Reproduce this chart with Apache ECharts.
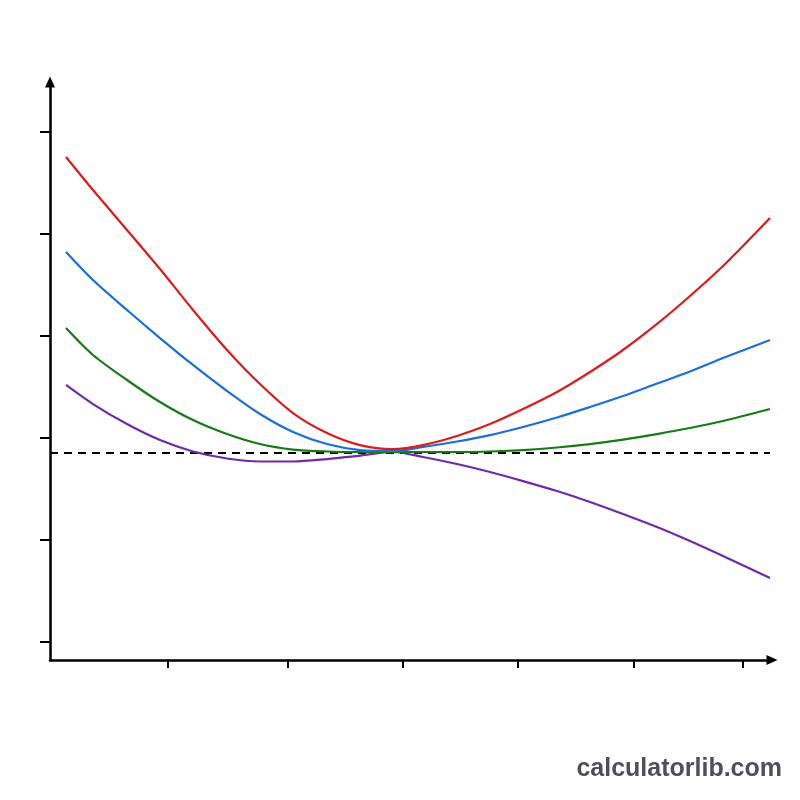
<!DOCTYPE html>
<html><head><meta charset="utf-8">
<script src="https://cdn.jsdelivr.net/npm/echarts@6/dist/echarts.min.js"></script>
<style>html,body{margin:0;padding:0;background:#fff}#c{width:800px;height:800px}</style>
</head><body><div id="c"></div>
<script>
const xs = [0.16, 0.43, 0.77, 1.10, 1.43, 1.77, 2.10, 2.43, 2.77, 3.10, 3.43, 3.73, 4.07, 4.40, 4.73, 5.07, 5.40, 5.73, 6.07, 6.40, 6.73, 7.20];
const redY = [4.755, 4.431, 4.039, 3.657, 3.255, 2.863, 2.529, 2.245, 2.049, 1.931, 1.892, 1.931, 2.020, 2.137, 2.284, 2.451, 2.647, 2.863, 3.118, 3.392, 3.686, 4.157];
const blueY = [3.824, 3.549, 3.255, 2.980, 2.716, 2.461, 2.235, 2.059, 1.941, 1.882, 1.873, 1.912, 1.966, 2.029, 2.108, 2.201, 2.304, 2.412, 2.534, 2.652, 2.784, 2.961];
const greenY = [3.078, 2.814, 2.569, 2.353, 2.176, 2.039, 1.941, 1.887, 1.868, 1.863, 1.863, 1.863, 1.863, 1.868, 1.882, 1.907, 1.941, 1.985, 2.039, 2.098, 2.167, 2.284];
const purpleY = [2.520, 2.333, 2.137, 1.980, 1.868, 1.799, 1.770, 1.770, 1.794, 1.828, 1.863, 1.814, 1.745, 1.667, 1.578, 1.480, 1.373, 1.255, 1.127, 0.990, 0.843, 0.627];
const baselineY = 1.853;
const baselineX = [0, 7.2];
const xTicks = [1.18, 2.38, 3.53, 4.68, 5.84, 6.93];
const yTicks = [0, 1, 2, 3, 4, 5];
const watermark = 'calculatorlib.com';

const pair = (ys) => xs.map((x, i) => [x, ys[i]]);
const chart = echarts.init(document.getElementById('c'), null, {renderer: 'canvas'});
const lineSeries = (data, color) => ({
  type: 'line', data, smooth: 0.3, showSymbol: false, symbol: 'none',
  lineStyle: {color, width: 2.2}, z: 3
});
chart.setOption({
  backgroundColor: '#ffffff',
  animation: false,
  grid: {left: 50, right: 28, top: 82, bottom: 140, containLabel: false},
  xAxis: {
    type: 'value', min: 0, max: 7.22,
    axisLine: {show: true, onZero: false, lineStyle: {color: '#000', width: 2.5}, symbol: ['none', 'triangle'], symbolSize: [10, 11]},
    axisTick: {show: true, length: 8, lineStyle: {color: '#000', width: 2}, customValues: xTicks},
    axisLabel: {show: false, customValues: xTicks},
    splitLine: {show: false}
  },
  yAxis: {
    type: 'value', min: -0.176, max: 5.49,
    axisLine: {show: true, onZero: false, lineStyle: {color: '#000', width: 2.5}, symbol: ['none', 'triangle'], symbolSize: [10, 11]},
    axisTick: {show: true, length: 10, lineStyle: {color: '#000', width: 2}, customValues: yTicks},
    axisLabel: {show: false, customValues: yTicks},
    splitLine: {show: false}
  },
  series: [
    {type: 'line', data: baselineX.map(x => [x, baselineY]), showSymbol: false, symbol: 'none',
     lineStyle: {color: '#000', width: 1.8, type: [8, 6]}, z: 2},
    lineSeries(pair(purpleY), '#6e2aa8'),
    lineSeries(pair(greenY), '#177a17'),
    lineSeries(pair(blueY), '#1a6fd8'),
    lineSeries(pair(redY), '#dc1b1b')
  ],
  graphic: [{
    type: 'text', right: 18, top: 757,
    style: {text: watermark, font: 'bold 25px "Liberation Sans", Arial, sans-serif', fill: '#4a5060'}
  }]
});
</script></body></html>
